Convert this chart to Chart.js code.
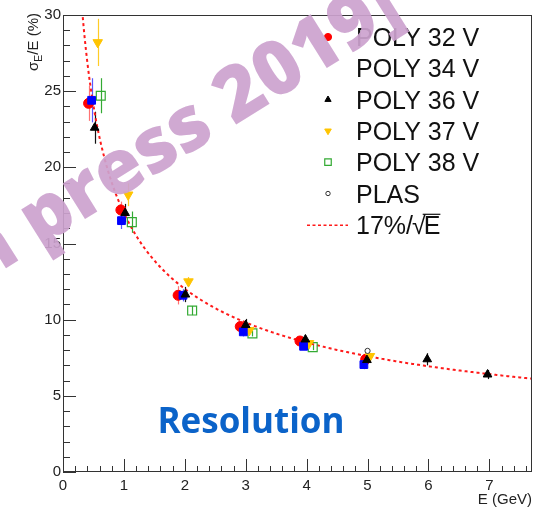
<!DOCTYPE html>
<html>
<head>
<meta charset="utf-8">
<script src="https://cdn.jsdelivr.net/npm/chart.js@4.4.1/dist/chart.umd.min.js"></script>
<style>
  html, body { margin: 0; padding: 0; background: #fff; }
  #wrap { width: 541px; height: 515px; }
</style>
</head>
<body>
<div id="wrap"><canvas id="c" width="541" height="515"></canvas></div>
<script>
// Energy resolution measurements: beam energy E (GeV), sigma_E/E (%) and its error (%)
const E_POLY32 = [0.42, 0.95, 1.89, 2.91, 3.89, 4.97];
const R_POLY32 = [24.2, 17.2, 11.6, 9.55, 8.6, 7.4];
const ERR_POLY32 = [1.15, 0.55, 0.6, 0.3, 0.2, 0.2];

const E_POLY34 = [0.47, 0.96, 1.97, 2.96, 3.95, 4.94];
const R_POLY34 = [24.4, 16.5, 11.6, 9.2, 8.25, 7.05];
const ERR_POLY34 = [1.45, 0.55, 0.4, 0.3, 0.2, 0.3];

const E_POLY36 = [0.52, 1.02, 2.01, 3.0, 3.98, 4.99, 5.98, 6.97];
const R_POLY36 = [22.6, 17.0, 11.65, 9.65, 8.7, 7.35, 7.4, 6.4];
const ERR_POLY36 = [1.05, 0.6, 0.5, 0.4, 0.3, 0.3, 0.4, 0.3];

const E_POLY37 = [0.57, 1.07, 2.06, 3.06, 4.04, 5.04];
const R_POLY37 = [28.2, 18.2, 12.5, 9.3, 8.45, 7.6];
const ERR_POLY37 = [1.55, 0.75, 0.3, 0.2, 0.2, 0.2];

const E_POLY38 = [0.62, 1.13, 2.12, 3.11, 4.1];
const R_POLY38 = [24.7, 16.4, 10.6, 9.1, 8.2];
const ERR_POLY38 = [1.15, 0.7, 0.3, 0.2, 0.2];

const E_PLAS = [5.0];
const R_PLAS = [7.95];
const ERR_PLAS = [0.1];

// Stochastic term of the reference curve: 17% / sqrt(E)
const FIT_COEFF = 17;
const FIT_E_MIN = 0.3;
const FIT_E_MAX = 7.7;

const X_TICKS_STEP = 1;
const Y_TICKS_STEP = 5;

const FONT = "'Liberation Sans', Arial, Helvetica, sans-serif";

function pts(xs, ys) { return xs.map((x, i) => ({ x: x, y: ys[i] })); }

const fitPoints = [];
for (let e = FIT_E_MIN; e <= FIT_E_MAX + 1e-9; e += 0.02) {
  fitPoints.push({ x: e, y: FIT_COEFF / Math.sqrt(e) });
}

const datasets = [
  { label: 'POLY 32 V', data: pts(E_POLY32, R_POLY32), errs: ERR_POLY32,
    pointStyle: 'circle', pointRadius: 5, pointBackgroundColor: '#ff0000', pointBorderColor: '#ff0000',
    pointBorderWidth: 1, errColor: 'rgba(255,80,80,0.8)', order: 6, legendMarker: true, legendRadius: 3.6 },
  { label: 'POLY 34 V', data: pts(E_POLY34, R_POLY34), errs: ERR_POLY34,
    pointStyle: 'rect', pointRadius: 5.5, pointBackgroundColor: '#0000ff', pointBorderColor: '#0000ff',
    pointBorderWidth: 1, errColor: 'rgba(60,60,255,0.85)', order: 2, legendMarker: false },
  { label: 'POLY 36 V', data: pts(E_POLY36, R_POLY36), errs: ERR_POLY36,
    pointStyle: 'triangle', pointRadius: 5, pointBackgroundColor: '#000000', pointBorderColor: '#000000',
    pointBorderWidth: 1, errColor: '#111111', order: 1, legendMarker: true, legendRadius: 3.6 },
  { label: 'POLY 37 V', data: pts(E_POLY37, R_POLY37), errs: ERR_POLY37,
    pointStyle: 'triangle', pointRotation: 180, pointRadius: 5.5, pointBackgroundColor: '#ffc400', pointBorderColor: '#ffc400',
    pointBorderWidth: 1, errColor: 'rgba(255,196,0,0.85)', order: 3, legendMarker: true, legendRadius: 3.8 },
  { label: 'POLY 38 V', data: pts(E_POLY38, R_POLY38), errs: ERR_POLY38,
    pointStyle: 'rect', pointRadius: 6.3, pointBackgroundColor: 'rgba(255,255,255,0)', pointBorderColor: '#33aa33',
    pointBorderWidth: 1.2, errColor: '#33aa33', order: 4, legendMarker: true, legendRadius: 4.6 },
  { label: 'PLAS', data: pts(E_PLAS, R_PLAS), errs: ERR_PLAS,
    pointStyle: 'circle', pointRadius: 2.6, pointBackgroundColor: '#ffffff', pointBorderColor: '#333333',
    pointBorderWidth: 1, errColor: '#333333', order: 0, legendMarker: true, legendRadius: 2.2 },
  { label: '17%/√E', type: 'line', data: fitPoints, showLine: true, pointRadius: 0,
    borderColor: '#ff1a1a', borderWidth: 2, borderDash: [3, 3], fill: false, tension: 0,
    order: 10, isFit: true }
];

// vertical error bars from the errs arrays
const errorBars = {
  id: 'errorBars',
  beforeDatasetsDraw(chart) {
    const ctx = chart.ctx, xs = chart.scales.x, ys = chart.scales.y, a = chart.chartArea;
    ctx.save();
    ctx.beginPath(); ctx.rect(a.left, a.top, a.right - a.left, a.bottom - a.top); ctx.clip();
    chart.data.datasets.forEach(ds => {
      if (!ds.errs) return;
      ctx.strokeStyle = ds.errColor; ctx.lineWidth = 1.2;
      ds.data.forEach((p, i) => {
        const px = Math.round(xs.getPixelForValue(p.x)) + 0.5;
        ctx.beginPath();
        ctx.moveTo(px, ys.getPixelForValue(p.y - ds.errs[i]));
        ctx.lineTo(px, ys.getPixelForValue(p.y + ds.errs[i]));
        ctx.stroke();
      });
    });
    ctx.restore();
  }
};

// frame with inward major/minor tick marks
const frameTicks = {
  id: 'frameTicks',
  afterDatasetsDraw(chart) {
    const ctx = chart.ctx, xs = chart.scales.x, ys = chart.scales.y, a = chart.chartArea;
    ctx.save();
    ctx.strokeStyle = '#333'; ctx.lineWidth = 1;
    ctx.strokeRect(Math.round(a.left) + 0.5, Math.round(a.top) + 0.5,
                   Math.round(a.right - a.left) - 1, Math.round(a.bottom - a.top) - 1);
    ctx.beginPath();
    for (let v = 0; v <= ys.max + 1e-9; v += 1) {
      const py = Math.round(ys.getPixelForValue(v)) + 0.5;
      const len = (Math.abs(v % Y_TICKS_STEP) < 1e-6) ? 13 : 7;
      ctx.moveTo(a.left, py); ctx.lineTo(a.left + len, py);
    }
    for (let k = 0; k * 0.2 <= xs.max + 1e-9; k++) {
      const v = k * 0.2;
      const px = Math.round(xs.getPixelForValue(v)) + 0.5;
      const len = (k % 5 === 0) ? 13 : 6;
      ctx.moveTo(px, a.bottom); ctx.lineTo(px, a.bottom - len);
    }
    ctx.stroke();
    ctx.restore();
  }
};

// legend, axis title with subscript, overlay labels
const overlay = {
  id: 'overlay',
  afterDraw(chart) {
    const ctx = chart.ctx;
    ctx.save();

    // y-axis title: sigma_E/E (%)
    ctx.save();
    ctx.translate(38, 13);
    ctx.rotate(-Math.PI / 2);
    ctx.fillStyle = '#222';
    ctx.textBaseline = 'alphabetic';
    const p1 = 'σ', p3 = '/E (%)';
    ctx.font = '10.5px ' + FONT;
    const wSub = ctx.measureText('E').width;
    ctx.font = '15px ' + FONT;
    const w1 = ctx.measureText(p1).width, w3 = ctx.measureText(p3).width;
    const x0 = -(w1 + wSub + w3);
    ctx.textAlign = 'left';
    ctx.fillText(p1, x0, 0);
    ctx.font = '10.5px ' + FONT;
    ctx.fillText('E', x0 + w1, 3.5);
    ctx.font = '15px ' + FONT;
    ctx.fillText(p3, x0 + w1 + wSub, 0);
    ctx.restore();

    // legend
    const rowY0 = 37, rowStep = 31.3, markX = 328, textX = 356;
    ctx.font = '25px ' + FONT;
    ctx.textAlign = 'left';
    ctx.textBaseline = 'alphabetic';
    chart.data.datasets.forEach((ds, i) => {
      const cy = rowY0 + i * rowStep;
      if (ds.isFit) {
        ctx.save();
        ctx.strokeStyle = ds.borderColor; ctx.lineWidth = 1.5; ctx.setLineDash([3, 2.5]);
        ctx.beginPath(); ctx.moveTo(307, cy + 0.5); ctx.lineTo(348, cy + 0.5); ctx.stroke();
        ctx.restore();
        ctx.fillStyle = '#111';
        const a = '17%/';
        ctx.fillText(a, textX, cy + 9);
        const wa = ctx.measureText(a).width;
        ctx.fillText('√', textX + wa - 1, cy + 9);
        const wr = ctx.measureText('√').width;
        ctx.fillText('E', textX + wa + wr - 3, cy + 9);
        const we = ctx.measureText('E').width;
        ctx.strokeStyle = '#111'; ctx.lineWidth = 1.2;
        ctx.beginPath();
        ctx.moveTo(textX + wa + wr - 4, cy - 10.5);
        ctx.lineTo(textX + wa + wr - 3 + we, cy - 10.5);
        ctx.stroke();
        return;
      }
      if (ds.legendMarker) {
        ctx.save();
        ctx.fillStyle = ds.pointBackgroundColor;
        ctx.strokeStyle = ds.pointBorderColor;
        ctx.lineWidth = ds.pointBorderWidth;
        Chart.helpers.drawPoint(ctx, {
          pointStyle: ds.pointStyle, radius: ds.legendRadius,
          rotation: ds.pointRotation || 0, borderWidth: ds.pointBorderWidth
        }, markX, cy);
        ctx.restore();
      }
      ctx.fillStyle = '#111';
      ctx.fillText(ds.label, textX, cy + 9);
    });

    // in-plot caption
    ctx.fillStyle = '#0b63c9';
    ctx.font = "bold 35px 'Open Sans', 'DejaVu Sans', sans-serif";
    ctx.textAlign = 'center';
    ctx.textBaseline = 'middle';
    ctx.fillText('Resolution', 251, 423);

    // diagonal stamp
    const stamp = '[In press 2019]';
    const ang = -32 * Math.PI / 180;
    ctx.font = "800 76px 'Open Sans', 'DejaVu Sans', sans-serif";
    ctx.textAlign = 'left';
    ctx.textBaseline = 'alphabetic';
    const pre = ctx.measureText('[In pr').width;
    const we = ctx.measureText('e').width;
    const xh = 41;
    const ux = Math.cos(ang), uy = Math.sin(ang);
    const vx = -Math.sin(ang), vy = Math.cos(ang);
    const ex = 120, ey = 173;
    const ox = ex - ux * (pre + we / 2) + vx * (xh / 2);
    const oy = ey - uy * (pre + we / 2) + vy * (xh / 2);
    ctx.translate(ox, oy);
    ctx.rotate(ang);
    ctx.globalAlpha = 0.92;
    ctx.fillStyle = 'rgb(204,162,206)';
    ctx.fillText(stamp, 0, 0);
    ctx.restore();
  }
};

new Chart(document.getElementById('c'), {
  type: 'scatter',
  data: { datasets: datasets },
  options: {
    responsive: false,
    animation: false,
    devicePixelRatio: 1,
    layout: { padding: { left: 0, top: 15, right: 9, bottom: 0 } },
    plugins: { legend: { display: false }, tooltip: { enabled: false } },
    scales: {
      x: {
        type: 'linear', min: 0, max: 7.7,
        grid: { display: false, drawTicks: false },
        border: { display: false },
        ticks: { stepSize: X_TICKS_STEP, includeBounds: false, padding: 5, maxRotation: 0,
                 color: '#222', font: { family: FONT, size: 15 } },
        title: { display: true, text: 'E (GeV)', align: 'end', color: '#222',
                 font: { family: FONT, size: 15 }, padding: { top: 0, bottom: 6 } },
        afterFit(s) { s.height = 43; }
      },
      y: {
        type: 'linear', min: 0, max: 30,
        grid: { display: false, drawTicks: false },
        border: { display: false },
        ticks: { stepSize: Y_TICKS_STEP, padding: 2, color: '#222', font: { family: FONT, size: 15 } },
        afterFit(s) { s.width = 63; }
      }
    }
  },
  plugins: [errorBars, frameTicks, overlay]
});
</script>
</body>
</html>
